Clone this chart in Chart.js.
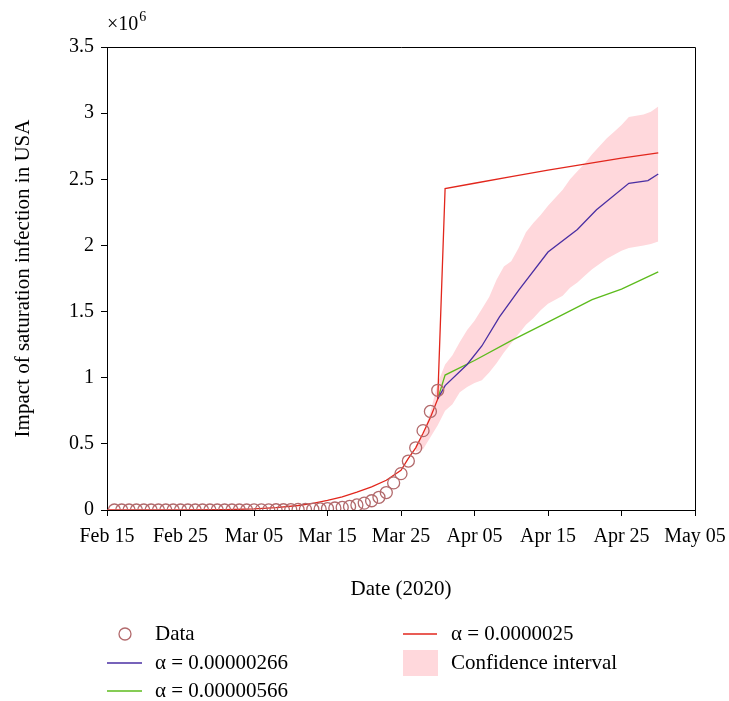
<!DOCTYPE html>
<html>
<head>
<meta charset="utf-8">
<script src="https://cdn.jsdelivr.net/npm/chart.js@4.4.1/dist/chart.umd.min.js"></script>
<style>
html,body{margin:0;padding:0;background:#fff}
</style>
</head>
<body>
<canvas id="chart" width="729" height="701"></canvas>
<script>
// x = days since Feb 15 2020, y = millions (axis shows x10^6)
const dateTicks = ['Feb 15','Feb 25','Mar 05','Mar 15','Mar 25','Apr 05','Apr 15','Apr 25','May 05'];

const dataDays = [1,2,3,4,5,6,7,8,9,10,11,12,13,14,15,16,17,18,19,20,21,22,23,24,25,26,27,28,29,30,31,32,33,34,35,36,37,38,39,40,41,42,43,44,45];
const dataCases = [0,0,0,0,0,0,0,0,0,0,0,0,0,0,0,0,0,0,0,0.001,0.001,0.001,0.002,0.002,0.003,0.004,0.005,0.006,0.008,0.011,0.015,0.02,0.027,0.038,0.052,0.07,0.096,0.132,0.205,0.275,0.37,0.47,0.60,0.745,0.905];

const redDays = [0,10,16,20,23,26,28,30,32,34,36,38,40,41,42,43,44,45,46,50,55,60,65,70,75];
const redVals = [0,0,0.002,0.008,0.018,0.034,0.05,0.072,0.1,0.135,0.175,0.225,0.3,0.39,0.47,0.58,0.70,0.84,2.43,2.47,2.52,2.57,2.615,2.66,2.70];

const blueDays = [45,46,49,51,53.4,56,60,64,66.6,71,73.6,75];
const blueVals = [0.84,0.94,1.10,1.24,1.46,1.66,1.95,2.12,2.27,2.47,2.49,2.54];

const greenDays = [45,46,50,55,60,66,70,75];
const greenVals = [0.84,1.02,1.13,1.28,1.42,1.59,1.67,1.80];

const bandDays  = [42,43,44,45,46,47,48,49,50,51,52,53,54,55,56,57,58,59,60,61,62,63,64,65,66,67,68,69,70,71,72,73,74,75];
const bandUpper = [0.49,0.57,0.74,0.96,1.10,1.17,1.27,1.36,1.43,1.52,1.61,1.74,1.84,1.88,1.98,2.10,2.17,2.23,2.30,2.36,2.42,2.50,2.56,2.62,2.69,2.75,2.81,2.86,2.91,2.97,2.98,2.99,3.01,3.05];
const bandLower = [0.44,0.46,0.55,0.64,0.75,0.80,0.89,0.93,0.96,0.98,1.04,1.11,1.19,1.26,1.33,1.40,1.45,1.51,1.56,1.59,1.62,1.68,1.72,1.77,1.82,1.86,1.90,1.93,1.96,1.98,1.99,2.00,2.01,2.03];

const FONT = "'Liberation Serif', 'DejaVu Serif', serif";
const TICK_SIZE = 20;
const TEXT_SIZE = 21;
const CIRCLE = '#b26a6c';
const RED = '#e2261c';
const BLUE = '#4a2fa3';
const GREEN = '#5cbb1c';
const PINK = 'rgb(255,216,220)';

const pts = (xs, ys) => xs.map((x, i) => ({x: x, y: ys[i]}));

const framePlugin = {
    id: 'frame',
    afterDraw(chart){
        const {ctx, chartArea: a} = chart;
        ctx.save();
        ctx.strokeStyle = '#000';
        ctx.lineWidth = 1;
        ctx.beginPath();
        ctx.moveTo(a.left, a.top + 0.5);
        ctx.lineTo(a.right + 0.5, a.top + 0.5);
        ctx.lineTo(a.right + 0.5, a.bottom);
        ctx.stroke();
        // exponent label
        ctx.fillStyle = '#000';
        ctx.textBaseline = 'alphabetic';
        ctx.font = TICK_SIZE + 'px ' + FONT;
        ctx.fillText('\u00d710', a.left, a.top - 17);
        const w = ctx.measureText('\u00d710').width;
        ctx.font = '14px ' + FONT;
        ctx.fillText('6', a.left + w + 1, a.top - 26);
        ctx.restore();
    }
};

const legendPlugin = {
    id: 'customLegend',
    afterDraw(chart){
        const ctx = chart.ctx;
        ctx.save();
        ctx.font = TEXT_SIZE + 'px ' + FONT;
        ctx.fillStyle = '#000';
        ctx.textBaseline = 'middle';
        // Data
        ctx.strokeStyle = CIRCLE;
        ctx.lineWidth = 1.3;
        ctx.beginPath();
        ctx.arc(125, 634, 6, 0, Math.PI * 2);
        ctx.stroke();
        ctx.fillText('Data', 155, 634);
        const line = (x1, x2, y, c) => {
            ctx.strokeStyle = c;
            ctx.lineWidth = 1.3;
            ctx.beginPath();
            ctx.moveTo(x1, y);
            ctx.lineTo(x2, y);
            ctx.stroke();
        };
        line(107, 142, 663, BLUE);
        ctx.fillText('\u03b1 = 0.00000266', 155, 663);
        line(107, 142, 691, GREEN);
        ctx.fillText('\u03b1 = 0.00000566', 155, 691);
        line(403, 437, 634, RED);
        ctx.fillText('\u03b1 = 0.0000025', 451, 634);
        ctx.fillStyle = PINK;
        ctx.fillRect(403, 650, 35, 26);
        ctx.fillStyle = '#000';
        ctx.fillText('Confidence interval', 451, 663);
        ctx.restore();
    }
};

new Chart(document.getElementById('chart').getContext('2d'), {
    type: 'line',
    data: {
        datasets: [
            {
                label: 'Data',
                data: pts(dataDays, dataCases),
                showLine: false,
                pointStyle: 'circle',
                pointRadius: 6,
                pointBorderWidth: 1.3,
                pointBorderColor: CIRCLE,
                pointBackgroundColor: 'rgba(0,0,0,0)',
                order: 0
            },
            {
                label: '\u03b1 = 0.0000025',
                data: pts(redDays, redVals),
                borderColor: RED,
                borderWidth: 1.3,
                pointRadius: 0,
                fill: false,
                order: 1
            },
            {
                label: '\u03b1 = 0.00000266',
                data: pts(blueDays, blueVals),
                borderColor: BLUE,
                borderWidth: 1.3,
                pointRadius: 0,
                fill: false,
                order: 2
            },
            {
                label: '\u03b1 = 0.00000566',
                data: pts(greenDays, greenVals),
                borderColor: GREEN,
                borderWidth: 1.3,
                pointRadius: 0,
                fill: false,
                order: 3
            },
            {
                label: 'lower',
                data: pts(bandDays, bandLower),
                borderWidth: 0,
                borderColor: 'rgba(0,0,0,0)',
                pointRadius: 0,
                fill: false,
                order: 4
            },
            {
                label: 'Confidence interval',
                data: pts(bandDays, bandUpper),
                borderWidth: 0,
                borderColor: 'rgba(0,0,0,0)',
                backgroundColor: PINK,
                pointRadius: 0,
                fill: '-1',
                order: 5
            }
        ]
    },
    options: {
        responsive: false,
        animation: false,
        layout: {
            padding: {left: 0, top: 47, right: 34, bottom: 99}
        },
        plugins: {
            legend: {display: false},
            tooltip: {enabled: false}
        },
        scales: {
            x: {
                type: 'linear',
                min: 0,
                max: 80,
                afterFit: function(scale){
                    scale.height = 92;
                    scale.paddingLeft = 0;
                    scale.paddingRight = 0;
                },
                ticks: {
                    stepSize: 10,
                    color: '#000',
                    padding: 9,
                    maxRotation: 0,
                    autoSkip: false,
                    font: {family: FONT, size: TICK_SIZE},
                    callback: function(v){ return dateTicks[Math.round(v / 10)]; }
                },
                grid: {
                    drawOnChartArea: false,
                    drawTicks: true,
                    tickLength: 6,
                    color: '#000'
                },
                border: {display: true, color: '#000', width: 1},
                title: {
                    display: true,
                    text: 'Date (2020)',
                    color: '#000',
                    font: {family: FONT, size: TEXT_SIZE},
                    padding: {top: 0, bottom: 0}
                }
            },
            y: {
                min: 0,
                max: 3.5,
                afterFit: function(scale){ scale.width = 107; },
                ticks: {
                    stepSize: 0.5,
                    color: '#000',
                    padding: 7,
                    font: {family: FONT, size: TICK_SIZE},
                    callback: function(v){ return String(v); }
                },
                grid: {
                    drawOnChartArea: false,
                    drawTicks: true,
                    tickLength: 6,
                    color: '#000'
                },
                border: {display: true, color: '#000', width: 1},
                title: {
                    display: true,
                    text: 'Impact of saturation infection in USA',
                    color: '#000',
                    font: {family: FONT, size: TEXT_SIZE},
                    padding: {top: 11, bottom: 0}
                }
            }
        }
    },
    plugins: [framePlugin, legendPlugin]
});
</script>
</body>
</html>
